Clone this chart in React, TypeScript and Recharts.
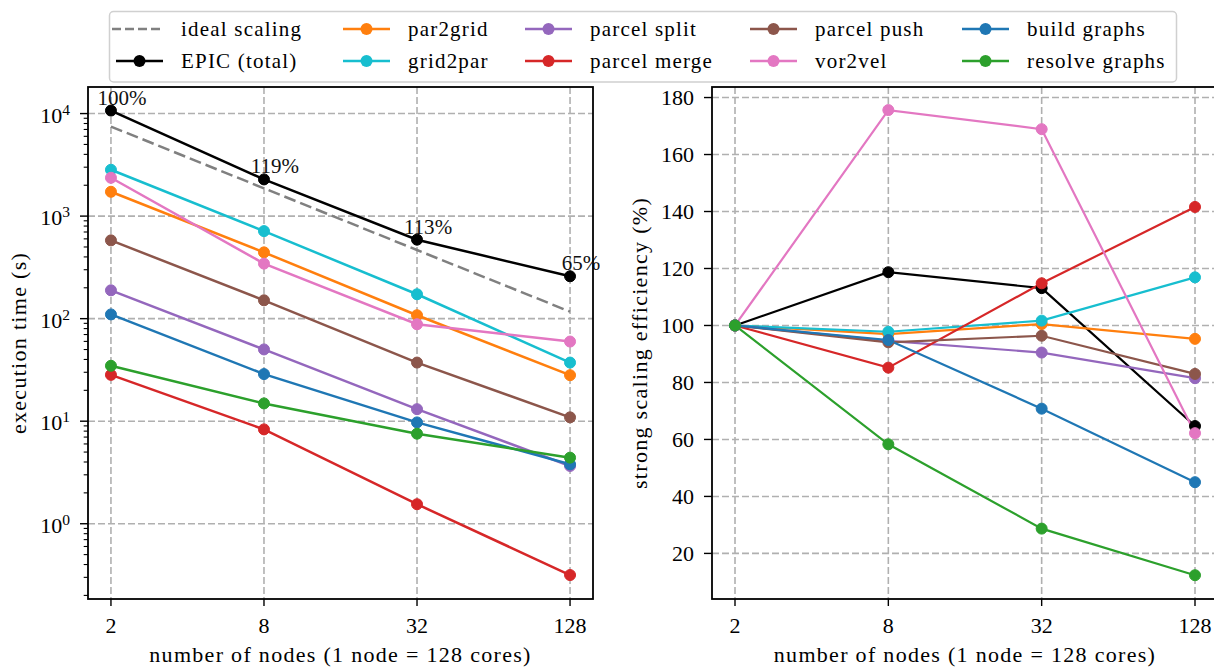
import React from "react";
import {
  LineChart,
  Line,
  XAxis,
  YAxis,
  CartesianGrid,
  LabelList,
} from "recharts";

const nodes = [2, 8, 32, 128];

// execution time (s)
const idealTime = [7470, 1867, 467, 117];
const epicTime = [10700, 2280, 589, 259];
const par2gridTime = [1727, 443, 108, 28.1];
const grid2parTime = [2830, 714, 173, 37.3];
const splitTime = [189, 50.1, 13.1, 3.66];
const mergeTime = [28.3, 8.32, 1.55, 0.316];
const pushTime = [580, 151, 37.3, 10.9];
const vor2velTime = [2365, 344, 88.2, 59.8];
const buildTime = [110, 28.8, 9.73, 3.8];
const resolveTime = [34.7, 14.9, 7.55, 4.41];

// strong scaling efficiency (%)
const epicEff = [100, 118.7, 113.1, 64.7];
const par2gridEff = [100, 97.0, 100.5, 95.3];
const grid2parEff = [100, 97.8, 101.7, 116.9];
const splitEff = [100, 94.6, 90.5, 81.5];
const mergeEff = [100, 85.2, 114.8, 141.6];
const pushEff = [100, 94.1, 96.4, 83.0];
const vor2velEff = [100, 175.6, 168.9, 62.2];
const buildEff = [100, 94.9, 70.8, 45.0];
const resolveEff = [100, 58.3, 28.7, 12.35];

const decades = [1, 10, 100, 1000, 10000];
const minorSteps = [2, 3, 4, 5, 6, 7, 8, 9];
const effTicks = [20, 40, 60, 80, 100, 120, 140, 160, 180];

const series = [
  { key: "ideal", name: "ideal scaling", color: "#808080", time: idealTime, eff: null, dashed: true },
  { key: "epic", name: "EPIC (total)", color: "#000000", time: epicTime, eff: epicEff, dashed: false },
  { key: "par2grid", name: "par2grid", color: "#ff7f0e", time: par2gridTime, eff: par2gridEff, dashed: false },
  { key: "grid2par", name: "grid2par", color: "#17becf", time: grid2parTime, eff: grid2parEff, dashed: false },
  { key: "split", name: "parcel split", color: "#9467bd", time: splitTime, eff: splitEff, dashed: false },
  { key: "merge", name: "parcel merge", color: "#d62728", time: mergeTime, eff: mergeEff, dashed: false },
  { key: "push", name: "parcel push", color: "#8c564b", time: pushTime, eff: pushEff, dashed: false },
  { key: "vor2vel", name: "vor2vel", color: "#e377c2", time: vor2velTime, eff: vor2velEff, dashed: false },
  { key: "build", name: "build graphs", color: "#1f77b4", time: buildTime, eff: buildEff, dashed: false },
  { key: "resolve", name: "resolve graphs", color: "#2ca02c", time: resolveTime, eff: resolveEff, dashed: false },
];

const timeRows = nodes.map((n, i) => {
  const row: any = { n, epicEff: epicEff[i] };
  series.forEach((s) => (row[s.key] = s.time[i]));
  return row;
});

const effRows = nodes.map((n, i) => {
  const row: any = { n };
  series.forEach((s) => {
    if (s.eff) row[s.key] = s.eff[i];
  });
  return row;
});

const logTicks = [
  ...decades,
  0.2, 0.3, 0.4, 0.5, 0.6, 0.7, 0.8, 0.9,
  ...decades.flatMap((d) => minorSteps.map((m) => m * d)),
]
  .filter((v) => v > 0.18 && v < 18000)
  .sort((a, b) => a - b);

const FONT = "'Liberation Serif', 'Times New Roman', serif";
const pad = Math.pow(4, 0.15);
const xDomain = [nodes[0] / pad, nodes[nodes.length - 1] * pad];

const XTick = (p: any) => (
  <g>
    <line x1={p.x} x2={p.x} y1={p.y} y2={p.y + 7} stroke="#000" strokeWidth={1.4} />
    <text x={p.x} y={p.y + 33.5} textAnchor="middle" fontFamily={FONT} fontSize={22} fill="#000">
      {p.payload.value}
    </text>
  </g>
);

const LogTick = (p: any) => {
  const v = p.payload.value;
  const major = decades.includes(v);
  if (!major) {
    return <line x1={p.x - 4.3} x2={p.x} y1={p.y} y2={p.y} stroke="#000" strokeWidth={1.1} />;
  }
  return (
    <g>
      <line x1={p.x - 8} x2={p.x} y1={p.y} y2={p.y} stroke="#000" strokeWidth={1.4} />
      <text x={p.x - 18} y={p.y + 9} textAnchor="end" fontFamily={FONT} fontSize={22} fill="#000">
        10
        <tspan dy={-8} fontSize={15.5}>
          {Math.round(Math.log10(v))}
        </tspan>
      </text>
    </g>
  );
};

const EffTick = (p: any) => (
  <g>
    <line x1={p.x - 8} x2={p.x} y1={p.y} y2={p.y} stroke="#000" strokeWidth={1.4} />
    <text x={p.x - 18} y={p.y + 7.5} textAnchor="end" fontFamily={FONT} fontSize={22} fill="#000">
      {p.payload.value}
    </text>
  </g>
);

const EpicLabel = (p: any) => (
  <text
    x={Number(p.x) + 11}
    y={Number(p.y) - 6}
    textAnchor="middle"
    fontFamily={FONT}
    fontSize={21}
    fill="#111"
  >
    {Math.round(Number(p.value))}%
  </text>
);

const legendCols = [116, 343, 525, 750, 962];
const legendRows = [29, 61];

export default function App() {
  return (
    <div
      style={{
        position: "absolute",
        left: 0,
        top: 0,
        width: 1214,
        height: 668,
        overflow: "hidden",
        background: "#fff",
      }}
    >
      <div style={{ position: "absolute", left: 0, top: 0 }}>
        <LineChart width={600} height={668} data={timeRows} margin={{ top: 87, right: 7, bottom: 0, left: 0 }}>
          <CartesianGrid
            stroke="#b0b0b0"
            strokeWidth={1.6}
            strokeDasharray="7 3"
            horizontalValues={decades}
            verticalValues={nodes}
          />
          <XAxis
            dataKey="n"
            type="number"
            scale="log"
            domain={xDomain}
            ticks={nodes}
            interval={0}
            allowDataOverflow
            axisLine={false}
            tickLine={false}
            tickSize={0}
            tickMargin={0}
            height={69}
            tick={(p: any) => <XTick {...p} />}
          />
          <YAxis
            type="number"
            scale="log"
            domain={[0.1845, 18160]}
            ticks={logTicks}
            interval={0}
            allowDataOverflow
            axisLine={false}
            tickLine={false}
            tickSize={0}
            tickMargin={0}
            width={88}
            tick={(p: any) => <LogTick {...p} />}
          />
          {series.map((s) => (
            <Line
              key={s.key}
              dataKey={s.key}
              stroke={s.color}
              strokeWidth={2.5}
              strokeDasharray={s.dashed ? "12 5" : undefined}
              dot={s.dashed ? false : { r: 5.5, fill: s.color, stroke: s.color, strokeWidth: 1 }}
              isAnimationActive={false}
            >
              {s.key === "epic" ? <LabelList dataKey="epicEff" content={(p: any) => <EpicLabel {...p} />} /> : null}
            </Line>
          ))}
        </LineChart>
      </div>

      <div style={{ position: "absolute", left: 600, top: 0 }}>
        <LineChart width={630} height={668} data={effRows} margin={{ top: 87, right: 12, bottom: 0, left: 0 }}>
          <CartesianGrid
            stroke="#b0b0b0"
            strokeWidth={1.6}
            strokeDasharray="7 3"
            horizontalValues={effTicks}
            verticalValues={nodes}
          />
          <XAxis
            dataKey="n"
            type="number"
            scale="log"
            domain={xDomain}
            ticks={nodes}
            interval={0}
            allowDataOverflow
            axisLine={false}
            tickLine={false}
            tickSize={0}
            tickMargin={0}
            height={69}
            tick={(p: any) => <XTick {...p} />}
          />
          <YAxis
            type="number"
            domain={[4, 183.7]}
            ticks={effTicks}
            interval={0}
            allowDataOverflow
            axisLine={false}
            tickLine={false}
            tickSize={0}
            tickMargin={0}
            width={112}
            tick={(p: any) => <EffTick {...p} />}
          />
          {series
            .filter((s) => s.eff)
            .map((s) => (
              <Line
                key={s.key}
                dataKey={s.key}
                stroke={s.color}
                strokeWidth={2.2}
                dot={{ r: 5.5, fill: s.color, stroke: s.color, strokeWidth: 1 }}
                isAnimationActive={false}
              />
            ))}
        </LineChart>
      </div>

      <svg
        width={1214}
        height={668}
        style={{ position: "absolute", left: 0, top: 0, pointerEvents: "none" }}
        fontFamily={FONT}
      >
        <rect x={88} y={87} width={505} height={512} fill="none" stroke="#000" strokeWidth={1.8} />
        <rect x={712} y={87} width={506} height={512} fill="none" stroke="#000" strokeWidth={1.8} />

        <text x={340.5} y={662} textAnchor="middle" fontSize={22} letterSpacing={1.3}>
          number of nodes (1 node = 128 cores)
        </text>
        <text x={965} y={662} textAnchor="middle" fontSize={22} letterSpacing={1.3}>
          number of nodes (1 node = 128 cores)
        </text>
        <text transform="translate(26,343) rotate(-90)" textAnchor="middle" fontSize={22} letterSpacing={1.3}>
          execution time (s)
        </text>
        <text transform="translate(647,343) rotate(-90)" textAnchor="middle" fontSize={22} letterSpacing={1.3}>
          strong scaling efficiency (%)
        </text>

        <rect x={109.5} y={11.5} width={1067} height={70.5} rx={4} fill="#fff" fillOpacity={0.85} stroke="#d0d0d0" strokeWidth={1.5} />
        {series.map((s, i) => {
          const x0 = legendCols[Math.floor(i / 2)];
          const y = legendRows[i % 2];
          return (
            <g key={s.key}>
              <line
                x1={s.dashed ? x0 - 4 : x0}
                x2={x0 + 47}
                y1={y}
                y2={y}
                stroke={s.color}
                strokeWidth={2.5}
                strokeDasharray={s.dashed ? "9 4" : undefined}
              />
              {s.dashed ? null : <circle cx={x0 + 23.5} cy={y} r={6} fill={s.color} />}
              <text x={x0 + 65} y={y + 6.5} fontSize={21} letterSpacing={1.2} fill="#000">
                {s.name}
              </text>
            </g>
          );
        })}
      </svg>
    </div>
  );
}
